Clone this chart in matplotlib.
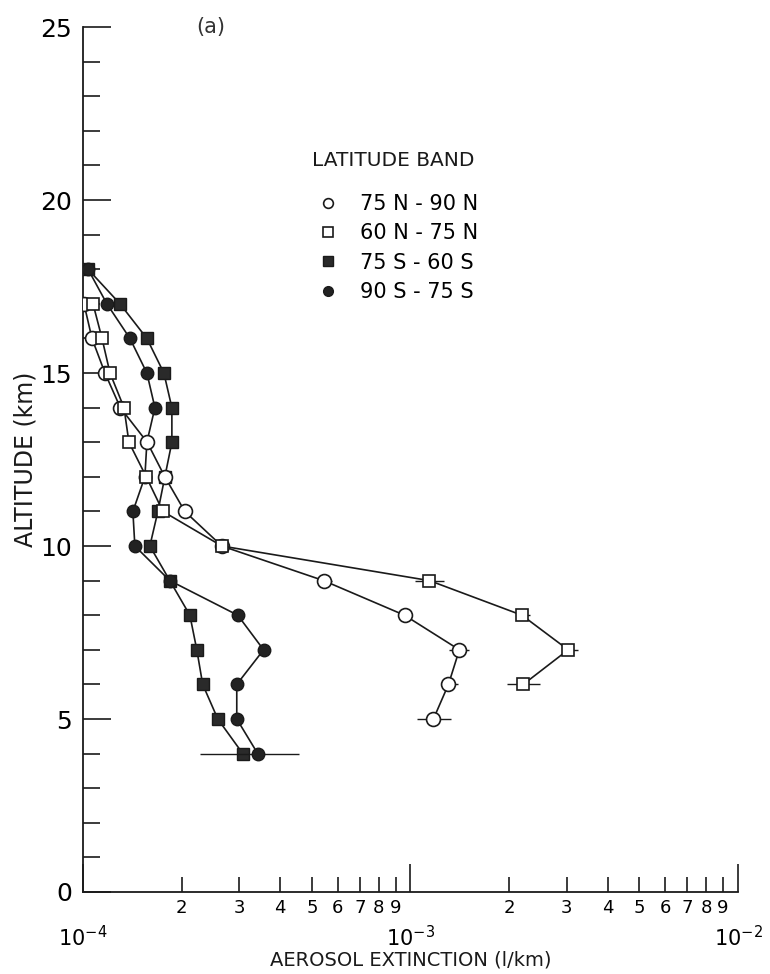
import numpy as np
import matplotlib
matplotlib.use("Agg")
import matplotlib.pyplot as plt
from matplotlib.ticker import FixedLocator, FixedFormatter, MultipleLocator
from matplotlib.lines import Line2D

nan = np.nan

# ---- data ----
series_labels = ["75 N - 90 N", "60 N - 75 N", "75 S - 60 S", "90 S - 75 S"]

alt_n90 = [5, 6, 7, 8, 9, 10, 11, 12, 13, 14, 15, 16, 17]
ext_n90 = [1.175e-3, 1.306e-3, 1.41e-3, 9.59e-4, 5.43e-4, 2.654e-4, 2.046e-4,
           1.778e-4, 1.57e-4, 1.30e-4, 1.167e-4, 1.065e-4, 1.007e-4]
lo_n90 = [1.05e-3, 1.252e-3, 1.315e-3, nan, 5.21e-4, nan, nan, nan, nan, nan, nan, nan, nan]
hi_n90 = [1.334e-3, 1.40e-3, 1.513e-3, nan, 5.74e-4, nan, nan, nan, nan, nan, nan, nan, nan]

alt_n75 = [6, 7, 8, 9, 10, 11, 12, 13, 14, 15, 16, 17]
ext_n75 = [2.21e-3, 3.03e-3, 2.19e-3, 1.143e-3, 2.654e-4, 1.754e-4, 1.56e-4,
           1.381e-4, 1.334e-4, 1.209e-4, 1.143e-4, 1.073e-4]
lo_n75 = [1.976e-3, 2.91e-3, 2.10e-3, 1.029e-3, nan, nan, nan, nan, nan, nan, nan, nan]
hi_n75 = [2.49e-3, 3.25e-3, 2.32e-3, 1.27e-3, nan, nan, nan, nan, nan, nan, nan, nan]

alt_s60 = [4, 5, 6, 7, 8, 9, 10, 11, 12, 13, 14, 15, 16, 17, 18]
ext_s60 = [3.075e-4, 2.58e-4, 2.32e-4, 2.226e-4, 2.12e-4, 1.841e-4, 1.60e-4, 1.693e-4,
           1.778e-4, 1.868e-4, 1.868e-4, 1.766e-4, 1.567e-4, 1.297e-4, 1.036e-4]

alt_s75 = [4, 5, 6, 7, 8, 9, 10, 11, 12, 13, 14, 15, 16, 17, 18]
ext_s75 = [3.416e-4, 2.948e-4, 2.948e-4, 3.56e-4, 2.969e-4, 1.841e-4, 1.44e-4, 1.42e-4,
           1.545e-4, 1.567e-4, 1.658e-4, 1.567e-4, 1.391e-4, 1.183e-4, 1.036e-4]
lo_s75 = [2.274e-4] + [nan] * 14
hi_s75 = [4.555e-4] + [nan] * 14

minor_tick_vals = [m * 10.0 ** e for e in (-4, -3) for m in range(2, 10)]
minor_tick_labels = [str(m) for e in (-4, -3) for m in range(2, 10)]
major_tick_vals = [1e-4, 1e-3, 1e-2]
major_tick_labels = [r"$10^{-4}$", r"$10^{-3}$", r"$10^{-2}$"]

# ---- figure ----
plt.rcParams["font.family"] = ["DejaVu Sans"]
fig = plt.figure(figsize=(7.70, 9.74), dpi=100)
ax = fig.add_axes([0.1078, 0.0842, 0.8506, 0.888])

ink = "#1a1a1a"
lw = 1.2
ms = 9


def xerr_of(v, lo, hi):
    v = np.asarray(v, float)
    lo = np.asarray(lo, float)
    hi = np.asarray(hi, float)
    return np.vstack([np.nan_to_num(v - lo), np.nan_to_num(hi - v)])


# filled series
ax.plot(ext_s60, alt_s60, "-", color=ink, lw=lw, marker="s", ms=ms - 1,
        mfc="#2a2a2a", mec=ink, mew=1.0, zorder=3)
ax.errorbar(ext_s75, alt_s75, xerr=xerr_of(ext_s75, lo_s75, hi_s75), fmt="-o",
            color=ink, lw=lw, ms=ms, mfc="#222222", mec=ink, mew=1.0,
            elinewidth=1.0, capsize=0, zorder=3)
# open series
ax.errorbar(ext_n90, alt_n90, xerr=xerr_of(ext_n90, lo_n90, hi_n90), fmt="-o",
            color=ink, lw=lw, ms=ms + 1, mfc="white", mec=ink, mew=1.2,
            elinewidth=1.0, capsize=0, zorder=4)
ax.errorbar(ext_n75, alt_n75, xerr=xerr_of(ext_n75, lo_n75, hi_n75), fmt="-s",
            color=ink, lw=lw, ms=ms, mfc="white", mec=ink, mew=1.2,
            elinewidth=1.0, capsize=0, zorder=4)

ax.set_xscale("log")
ax.set_xlim(1e-4, 1e-2)
ax.set_ylim(0, 25)

for s in ("top", "right"):
    ax.spines[s].set_visible(False)
for s in ("left", "bottom"):
    ax.spines[s].set_linewidth(1.3)
    ax.spines[s].set_color(ink)

ax.xaxis.set_major_locator(FixedLocator(major_tick_vals))
ax.xaxis.set_major_formatter(FixedFormatter(major_tick_labels))
ax.xaxis.set_minor_locator(FixedLocator(minor_tick_vals))
ax.xaxis.set_minor_formatter(FixedFormatter(minor_tick_labels))
ax.yaxis.set_major_locator(MultipleLocator(5))
ax.yaxis.set_minor_locator(MultipleLocator(1))

ax.tick_params(axis="both", which="both", direction="in", color=ink, width=1.2)
ax.tick_params(axis="x", which="major", length=20, pad=24, labelsize=15)
ax.tick_params(axis="x", which="minor", length=11, pad=5, labelsize=13)
ax.tick_params(axis="y", which="major", length=20, pad=8, labelsize=18)
ax.tick_params(axis="y", which="minor", length=12)

ax.set_xlabel("AEROSOL EXTINCTION (l/km)", fontsize=14, labelpad=0, color=ink)
ax.set_ylabel("ALTITUDE (km)", fontsize=17, labelpad=2, color=ink)

ax.text(0.195, 1.0, "(a)", transform=ax.transAxes, fontsize=15, color="#333",
        ha="center", va="center")

fig.text(312 / 770, 1 - 161 / 974, "LATITUDE BAND", fontsize=14.5, color=ink,
         ha="left", va="center")

handles = [
    Line2D([], [], ls="none", marker="o", ms=7, mfc="white", mec=ink, mew=1.2),
    Line2D([], [], ls="none", marker="s", ms=6.5, mfc="white", mec=ink, mew=1.2),
    Line2D([], [], ls="none", marker="s", ms=6.5, mfc="#2a2a2a", mec=ink, mew=1.0),
    Line2D([], [], ls="none", marker="o", ms=7, mfc="#222222", mec=ink, mew=1.0),
]
leg = ax.legend(handles, series_labels, loc="upper left",
                bbox_to_anchor=(318 / 770, 1 - 194 / 974), bbox_transform=fig.transFigure,
                frameon=False, fontsize=15, handlelength=1.0,
                handletextpad=1.0, labelspacing=0.45,
                borderaxespad=0, borderpad=0)

fig.savefig("out.png", dpi=100, facecolor="white")
